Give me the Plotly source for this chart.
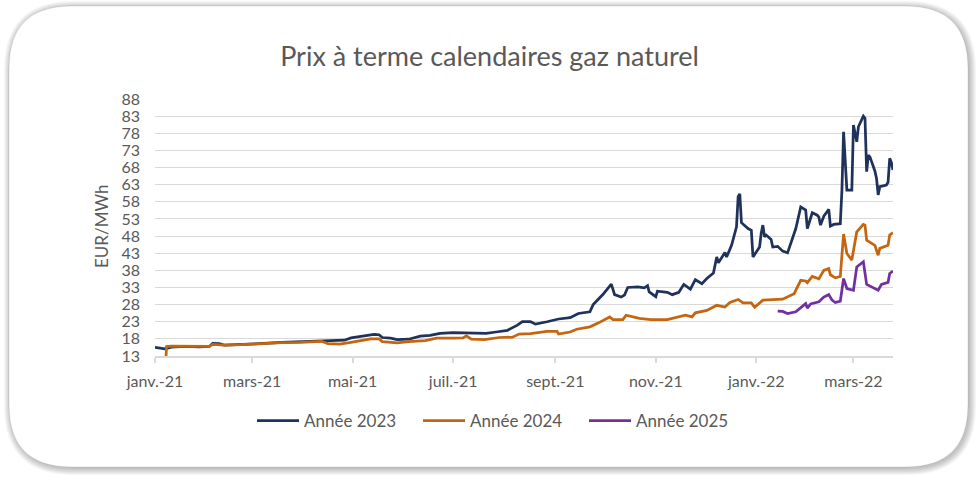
import plotly.graph_objects as go

dates_2023 = ["2021-01-01", "2021-01-04", "2021-01-07", "2021-01-11", "2021-01-19", "2021-01-28",
              "2021-02-03", "2021-02-05", "2021-02-09", "2021-02-12", "2021-02-22", "2021-03-05",
              "2021-03-19", "2021-03-30", "2021-04-12", "2021-04-20", "2021-04-26", "2021-04-30",
              "2021-05-05", "2021-05-10", "2021-05-14", "2021-05-17", "2021-05-19", "2021-05-24",
              "2021-05-28", "2021-06-04", "2021-06-11", "2021-06-17", "2021-06-23", "2021-07-01",
              "2021-07-07", "2021-07-14", "2021-07-21", "2021-07-27", "2021-08-03", "2021-08-09",
              "2021-08-12", "2021-08-17", "2021-08-20", "2021-08-27", "2021-09-03", "2021-09-10",
              "2021-09-15", "2021-09-22", "2021-09-24", "2021-09-30", "2021-10-01", "2021-10-05",
              "2021-10-07", "2021-10-11", "2021-10-13", "2021-10-15", "2021-10-21", "2021-10-25",
              "2021-10-27", "2021-10-28", "2021-11-01", "2021-11-02", "2021-11-08", "2021-11-11",
              "2021-11-15", "2021-11-18", "2021-11-22", "2021-11-25", "2021-11-29", "2021-12-02",
              "2021-12-06", "2021-12-08", "2021-12-09", "2021-12-13", "2021-12-14", "2021-12-17",
              "2021-12-20", "2021-12-21", "2021-12-22", "2021-12-23", "2021-12-27", "2021-12-29",
              "2021-12-30", "2022-01-03", "2022-01-04", "2022-01-05", "2022-01-06", "2022-01-07",
              "2022-01-10", "2022-01-11", "2022-01-14", "2022-01-17", "2022-01-20", "2022-01-25",
              "2022-01-28", "2022-01-31", "2022-02-01", "2022-02-02", "2022-02-04", "2022-02-07",
              "2022-02-08", "2022-02-09", "2022-02-11", "2022-02-14", "2022-02-15", "2022-02-17",
              "2022-02-21", "2022-02-22", "2022-02-23", "2022-02-25", "2022-02-28", "2022-03-01",
              "2022-03-03", "2022-03-04", "2022-03-07", "2022-03-08", "2022-03-09", "2022-03-10",
              "2022-03-11", "2022-03-14", "2022-03-15", "2022-03-16", "2022-03-17", "2022-03-21",
              "2022-03-22", "2022-03-23", "2022-03-24", "2022-03-25"]
prix_2023 = [15.5, 15.4, 15.1, 15.6, 15.8, 15.7,
             15.8, 16.7, 16.6, 16.2, 16.3, 16.6,
             17.0, 17.2, 17.4, 17.5, 17.6, 18.3,
             18.6, 19.0, 19.3, 19.2, 18.4, 18.2,
             17.8, 17.9, 18.8, 19.0, 19.6, 19.8,
             19.7, 19.5, 19.6, 20.0, 20.5, 22.0,
             23.0, 23.0, 22.3, 23.0, 23.8, 24.2,
             25.4, 25.9, 28.0, 31.0, 31.6, 34.0,
             30.9, 30.2, 30.8, 33.0, 33.2, 32.9,
             33.5, 31.7, 30.3, 31.9, 31.6, 30.9,
             31.6, 33.9, 32.5, 35.3, 34.1, 35.6,
             37.2, 41.9, 40.2, 43.2, 41.9, 45.3,
             50.7, 59.5, 60.3, 51.9, 50.2, 49.7,
             41.9, 44.8, 48.8, 51.2, 47.8, 48.3,
             47.0, 44.8, 45.0, 43.6, 43.1, 50.2,
             56.5, 55.6, 50.2, 51.7, 54.8, 54.1,
             53.5, 51.2, 53.8, 55.8, 50.9, 51.4,
             51.6, 61.4, 78.4, 61.4, 61.4, 80.4,
             75.5, 79.9, 83.0, 82.4, 66.8, 71.6,
             71.1, 67.0, 64.8, 60.0, 62.4, 62.9,
             63.7, 70.7, 69.5, 67.3]

dates_2024 = ["2021-01-07", "2021-01-08", "2021-01-11", "2021-01-19", "2021-01-28", "2021-02-03",
              "2021-02-05", "2021-02-12", "2021-02-22", "2021-03-05", "2021-03-19", "2021-03-30",
              "2021-04-12", "2021-04-16", "2021-04-23", "2021-04-29", "2021-05-05", "2021-05-12",
              "2021-05-17", "2021-05-19", "2021-05-28", "2021-06-04", "2021-06-14", "2021-06-21",
              "2021-07-02", "2021-07-07", "2021-07-09", "2021-07-12", "2021-07-20", "2021-07-29",
              "2021-08-06", "2021-08-10", "2021-08-17", "2021-08-27", "2021-09-02", "2021-09-03",
              "2021-09-10", "2021-09-14", "2021-09-22", "2021-09-27", "2021-10-04", "2021-10-06",
              "2021-10-12", "2021-10-14", "2021-10-22", "2021-10-29", "2021-11-08", "2021-11-16",
              "2021-11-19", "2021-11-23", "2021-11-25", "2021-12-02", "2021-12-08", "2021-12-13",
              "2021-12-16", "2021-12-21", "2021-12-24", "2021-12-29", "2021-12-31", "2022-01-05",
              "2022-01-11", "2022-01-17", "2022-01-24", "2022-01-28", "2022-01-31", "2022-02-01",
              "2022-02-04", "2022-02-08", "2022-02-11", "2022-02-14", "2022-02-15", "2022-02-18",
              "2022-02-21", "2022-02-22", "2022-02-23", "2022-02-25", "2022-02-28", "2022-03-03",
              "2022-03-07", "2022-03-08", "2022-03-09", "2022-03-14", "2022-03-16", "2022-03-17",
              "2022-03-22", "2022-03-23", "2022-03-25"]
prix_2024 = [5.0, 15.8, 15.9, 15.9, 15.7, 15.8,
             16.4, 16.2, 16.3, 16.6, 16.9, 17.0,
             17.3, 16.6, 16.5, 16.9, 17.4, 18.0,
             18.0, 17.2, 16.8, 17.2, 17.5, 18.2,
             18.2, 18.3, 18.9, 17.9, 17.8, 18.4,
             18.5, 19.4, 19.5, 20.2, 20.2, 19.4,
             20.0, 20.8, 21.5, 22.6, 24.4, 23.6,
             23.6, 24.9, 24.0, 23.6, 23.6, 24.6,
             24.9, 24.4, 25.6, 26.3, 27.8, 27.3,
             28.6, 29.5, 28.5, 28.5, 27.2, 29.3,
             29.5, 29.6, 31.2, 35.1, 34.9, 34.4,
             36.2, 35.5, 38.0, 38.5, 36.7, 35.8,
             36.2, 41.9, 48.6, 42.9, 41.0, 49.2,
             51.4, 51.2, 46.8, 45.3, 42.4, 44.4,
             45.3, 48.3, 49.0]

dates_2025 = ["2022-01-14", "2022-01-17", "2022-01-20", "2022-01-25", "2022-01-31", "2022-02-01",
              "2022-02-03", "2022-02-08", "2022-02-11", "2022-02-14", "2022-02-16", "2022-02-18",
              "2022-02-21", "2022-02-23", "2022-02-25", "2022-03-01", "2022-03-03", "2022-03-07",
              "2022-03-09", "2022-03-16", "2022-03-18", "2022-03-22", "2022-03-23", "2022-03-25"]
prix_2025 = [26.1, 26.0, 25.4, 25.9, 28.3, 27.0,
             28.2, 28.8, 30.2, 30.9, 29.3, 28.6,
             29.0, 35.6, 32.7, 32.2, 39.0, 40.5,
             33.9, 32.2, 33.9, 34.5, 37.1, 37.8]

tick_dates = ["2021-01-01", "2021-03-01", "2021-05-01", "2021-07-01", "2021-09-01",
              "2021-11-01", "2022-01-01", "2022-03-01"]
tick_labels = ["janv.-21", "mars-21", "mai-21", "juil.-21", "sept.-21",
               "nov.-21", "janv.-22", "mars-22"]

W, H = 979, 481
L, R, T, B = 155, 893, 99, 356
GREY = "#595959"
FONT = "Lato"


def px(x, y):
    return (x - L) / (R - L), (B - y) / (B - T)


def rounded(x0, y0, x1, y1, r):
    pts = [("M", [(x0 + r, y0)]), ("L", [(x1 - r, y0)]), ("Q", [(x1, y0), (x1, y0 + r)]),
           ("L", [(x1, y1 - r)]), ("Q", [(x1, y1), (x1 - r, y1)]), ("L", [(x0 + r, y1)]),
           ("Q", [(x0, y1), (x0, y1 - r)]), ("L", [(x0, y0 + r)]), ("Q", [(x0, y0), (x0 + r, y0)])]
    s = ""
    for cmd, coords in pts:
        s += cmd + " ".join("%.5f,%.5f" % px(a, b) for a, b in coords) + " "
    return s + "Z"


fig = go.Figure()
fig.add_trace(go.Scatter(x=dates_2023, y=prix_2023, mode="lines", name="Année 2023",
                         line=dict(color="#1F3259", width=2.75)))
fig.add_trace(go.Scatter(x=dates_2024, y=prix_2024, mode="lines", name="Année 2024",
                         line=dict(color="#C4650F", width=2.75)))
fig.add_trace(go.Scatter(x=dates_2025, y=prix_2025, mode="lines", name="Année 2025",
                         line=dict(color="#7030A0", width=2.75)))

# card frame with soft shadow
shapes = []
for i in range(7, 0, -1):
    shapes.append(dict(type="path", xref="paper", yref="paper", layer="below",
                       path=rounded(9 - i + 2, 6 - i + 2, 968 + i + 1, 467 + i + 1, 62 + i),
                       fillcolor="rgba(0,0,0,0.035)", line=dict(width=0)))
shapes.append(dict(type="path", xref="paper", yref="paper", layer="below",
                   path=rounded(9, 6, 968, 467, 62), fillcolor="white",
                   line=dict(color="rgba(0,0,0,0.10)", width=1)))

fig.update_layout(
    width=W, height=H,
    margin=dict(l=L, r=W - R, t=T, b=H - B, pad=0),
    paper_bgcolor="white", plot_bgcolor="rgba(0,0,0,0)",
    font=dict(family=FONT, color=GREY, size=16),
    title=dict(text="Prix à terme calendaires gaz naturel", xref="container", x=0.5,
               xanchor="center", y=1 - 57 / H, yanchor="middle",
               font=dict(family=FONT, size=27, color=GREY)),
    shapes=shapes,
    showlegend=True,
    legend=dict(orientation="h", x=px(252, 0)[0], xanchor="left",
                y=px(0, 421)[1], yanchor="middle", entrywidth=109, entrywidthmode="pixels",
                font=dict(family=FONT, size=17, color=GREY), bgcolor="rgba(0,0,0,0)",
                itemwidth=42),
    annotations=[dict(text="EUR/MWh", xref="paper", yref="paper", x=px(101, 0)[0],
                      y=px(0, 227)[1], showarrow=False, textangle=-90,
                      font=dict(family=FONT, size=17, color=GREY),
                      xanchor="center", yanchor="middle")],
)
fig.update_xaxes(type="date", range=["2021-01-01", "2022-03-25"], showgrid=False,
                 tickvals=tick_dates, ticktext=tick_labels, ticks="outside", ticklen=5,
                 tickcolor="#D9D9D9", tickwidth=1.5, showline=True, linecolor="#D9D9D9",
                 linewidth=1.5, zeroline=False, ticklabelstandoff=5,
                 tickfont=dict(size=16, color=GREY))
fig.update_yaxes(range=[13, 88], tick0=13, dtick=5, showgrid=True, gridcolor="#D9D9D9",
                 gridwidth=1, zeroline=False, showline=False, ticks="",
                 ticklabelstandoff=14, tickfont=dict(size=16, color=GREY))

fig.write_html("out.html", config={"displayModeBar": False},
               post_script="document.body.style.margin='0';")
